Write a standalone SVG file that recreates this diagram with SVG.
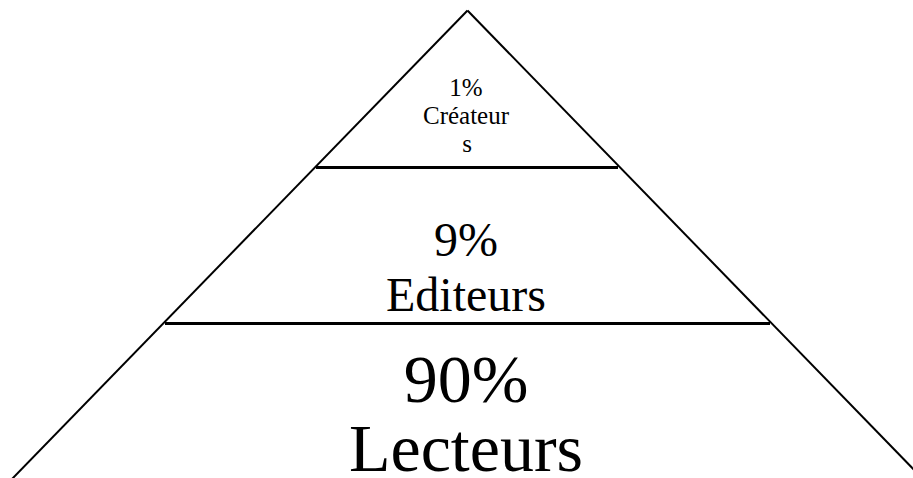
<svg xmlns="http://www.w3.org/2000/svg" width="913" height="478" viewBox="0 0 913 478">
<style>
.edge{stroke:#000;stroke-width:2;fill:none;stroke-linecap:butt}
.div{stroke:#000;stroke-width:3;fill:none}
.t{font-family:'Liberation Serif','Times New Roman',serif;fill:#000;text-anchor:middle}
</style>
<rect width="913" height="478" fill="#fff"/>
<g id="connectors">
<line class="edge" x1="467.5" y1="10.5" x2="12" y2="479"/>
<line class="edge" x1="467.5" y1="10.5" x2="923" y2="479"/>
<line class="div" x1="316" y1="167.5" x2="618" y2="167.5"/>
<line class="div" x1="165" y1="323.5" x2="770" y2="323.5"/>
</g>
<g id="top">
<text class="t" x="466" y="96" font-size="25">1%</text>
<text class="t" x="466" y="124" font-size="25">Créateur</text>
<text class="t" x="467" y="152" font-size="25">s</text>
</g>
<g id="middle">
<text class="t" x="466" y="256" font-size="48">9%</text>
<text class="t" x="466" y="311" font-size="48">Editeurs</text>
</g>
<g id="bottom">
<text class="t" x="466" y="402" font-size="68">90%</text>
<text class="t" x="466" y="471" font-size="68">Lecteurs</text>
</g>
</svg>
